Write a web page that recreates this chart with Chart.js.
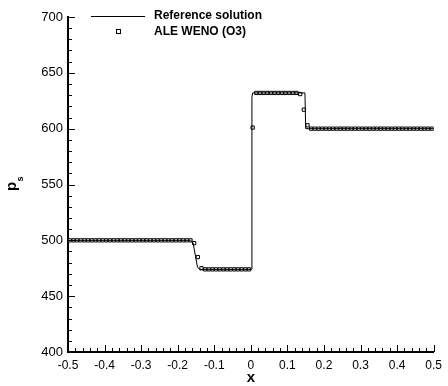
<!DOCTYPE html>
<html>
<head>
<meta charset="utf-8">
<script src="https://cdn.jsdelivr.net/npm/chart.js@4.4.1/dist/chart.umd.min.js"></script>
<style>
  body { margin: 0; background: #fff; }
</style>
</head>
<body>
<canvas id="myChart" width="448" height="386"></canvas>
<script>
// reference solution (exact), breakpoints of the curve
const refX = [-0.5, -0.165, -0.158, -0.146, -0.14, 0.001, 0.003, 0.005, 0.148, 0.150, 0.5];
const refY = [500, 500, 498, 476, 474, 474, 628, 632, 632, 600, 600];

// ALE WENO (O3) cell values, 100 cells
const wenoX = [
  -0.495, -0.485, -0.475, -0.465, -0.455, -0.445, -0.435, -0.425, -0.415, -0.405,
  -0.395, -0.385, -0.375, -0.365, -0.355, -0.345, -0.335, -0.325, -0.315, -0.305,
  -0.295, -0.285, -0.275, -0.265, -0.255, -0.245, -0.235, -0.225, -0.215, -0.205,
  -0.195, -0.185, -0.175, -0.165, -0.155, -0.145, -0.135, -0.125, -0.115, -0.105,
  -0.095, -0.085, -0.075, -0.065, -0.055, -0.045, -0.035, -0.025, -0.015, -0.005,
  0.005, 0.015, 0.025, 0.035, 0.045, 0.055, 0.065, 0.075, 0.085, 0.095,
  0.105, 0.115, 0.125, 0.135, 0.145, 0.155, 0.165, 0.175, 0.185, 0.195,
  0.205, 0.215, 0.225, 0.235, 0.245, 0.255, 0.265, 0.275, 0.285, 0.295,
  0.305, 0.315, 0.325, 0.335, 0.345, 0.355, 0.365, 0.375, 0.385, 0.395,
  0.405, 0.415, 0.425, 0.435, 0.445, 0.455, 0.465, 0.475, 0.485, 0.495
];
const wenoY = [
  500, 500, 500, 500, 500, 500, 500, 500, 500, 500,
  500, 500, 500, 500, 500, 500, 500, 500, 500, 500,
  500, 500, 500, 500, 500, 500, 500, 500, 500, 500,
  500, 500, 500, 500, 497.5, 485, 475, 474, 474, 474,
  474, 474, 474, 474, 474, 474, 474, 474, 474, 474,
  601, 632, 632, 632, 632, 632, 632, 632, 632, 632,
  632, 632, 632, 631, 617, 603, 600, 600, 600, 600,
  600, 600, 600, 600, 600, 600, 600, 600, 600, 600,
  600, 600, 600, 600, 600, 600, 600, 600, 600, 600,
  600, 600, 600, 600, 600, 600, 600, 600, 600, 600
];

// tick labels of the x axis
const xTickLabels = ["-0.5", "-0.4", "-0.3", "-0.2", "-0.1", "0", "0.1", "0.2", "0.3", "0.4", "0.5"];

const font = '"Liberation Sans", Arial, sans-serif';

// turn the x/y lists into point objects for chart.js
function toPoints(xs, ys) {
  return xs.map((x, i) => ({ x: x, y: ys[i] }));
}

// draws the inward ticks, axis titles and the legend (tecplot look)
const decorations = {
  id: 'decorations',
  afterDraw(chart) {
    const ctx = chart.ctx;
    const xs = chart.scales.x;
    const ys = chart.scales.y;
    const area = chart.chartArea;
    ctx.save();
    ctx.strokeStyle = '#000';
    ctx.lineWidth = 1;

    // x ticks, minor every 0.02
    for (let i = 0; i <= 50; i++) {
      const px = Math.round(xs.getPixelForValue(-0.5 + i * 0.02)) + 0.5;
      const len = i % 5 === 0 ? 7 : 4;
      ctx.beginPath();
      ctx.moveTo(px, area.bottom);
      ctx.lineTo(px, area.bottom - len);
      ctx.stroke();
    }
    // y ticks, minor every 10
    for (let i = 0; i <= 30; i++) {
      const py = Math.round(ys.getPixelForValue(400 + i * 10)) + 0.5;
      const len = i % 5 === 0 ? 7 : 4;
      ctx.beginPath();
      ctx.moveTo(area.left, py);
      ctx.lineTo(area.left + len, py);
      ctx.stroke();
    }

    ctx.fillStyle = '#000';
    // x title
    ctx.font = 'bold 15px ' + font;
    ctx.textAlign = 'center';
    ctx.textBaseline = 'middle';
    ctx.fillText('x', (area.left + area.right) / 2, 378);

    // y title p with subscript s, rotated
    ctx.save();
    ctx.translate(16, 191);
    ctx.rotate(-Math.PI / 2);
    ctx.textAlign = 'left';
    ctx.textBaseline = 'alphabetic';
    ctx.font = 'bold 15px ' + font;
    ctx.fillText('p', 0, 0);
    ctx.font = 'bold 9px ' + font;
    ctx.fillText('s', 9.5, 7);
    ctx.restore();

    // legend
    ctx.font = 'bold 12px ' + font;
    ctx.textAlign = 'left';
    ctx.textBaseline = 'middle';
    ctx.beginPath();
    ctx.moveTo(91, 16.5);
    ctx.lineTo(145, 16.5);
    ctx.stroke();
    ctx.fillText('Reference solution', 154, 16);
    ctx.fillStyle = '#fff';
    ctx.fillRect(116, 29.5, 4, 4);
    ctx.strokeRect(116.5, 29.5, 4, 4);
    ctx.fillStyle = '#000';
    ctx.fillText('ALE WENO (O3)', 154, 32);
    ctx.restore();
  }
};

const myChart = document.getElementById("myChart");

let lineChart = new Chart(myChart, {
  type: 'scatter',
  data: {
    datasets: [
      {
        label: 'Reference solution',
        data: toPoints(refX, refY),
        showLine: true,
        borderColor: '#000',
        borderWidth: 1,
        pointRadius: 0,
        tension: 0
      },
      {
        label: 'ALE WENO (O3)',
        data: toPoints(wenoX, wenoY),
        showLine: false,
        pointStyle: 'rect',
        pointRadius: 2.3,
        backgroundColor: '#fff',
        borderColor: '#000',
        borderWidth: 1
      }
    ]
  },
  options: {
    responsive: false,
    animation: false,
    devicePixelRatio: 1,
    layout: { padding: { left: 0, right: 10, top: 17, bottom: 0 } },
    plugins: {
      legend: { display: false },
      tooltip: { enabled: false }
    },
    scales: {
      x: {
        type: 'linear',
        min: -0.5,
        max: 0.5,
        grid: { display: false, drawTicks: false },
        border: { display: true, color: '#000', width: 2 },
        ticks: {
          stepSize: 0.1,
          padding: 6,
          color: '#000',
          font: { family: font, size: 12 },
          maxRotation: 0,
          callback: (value, index) => xTickLabels[index]
        },
        afterFit: (scale) => { scale.height = 34; }
      },
      y: {
        min: 400,
        max: 700,
        grid: { display: false, drawTicks: false },
        border: { display: true, color: '#000', width: 2 },
        ticks: {
          stepSize: 50,
          padding: 5,
          color: '#000',
          font: { family: font, size: 13 }
        },
        afterFit: (scale) => { scale.width = 68; }
      }
    }
  },
  plugins: [decorations]
});
</script>
</body>
</html>
